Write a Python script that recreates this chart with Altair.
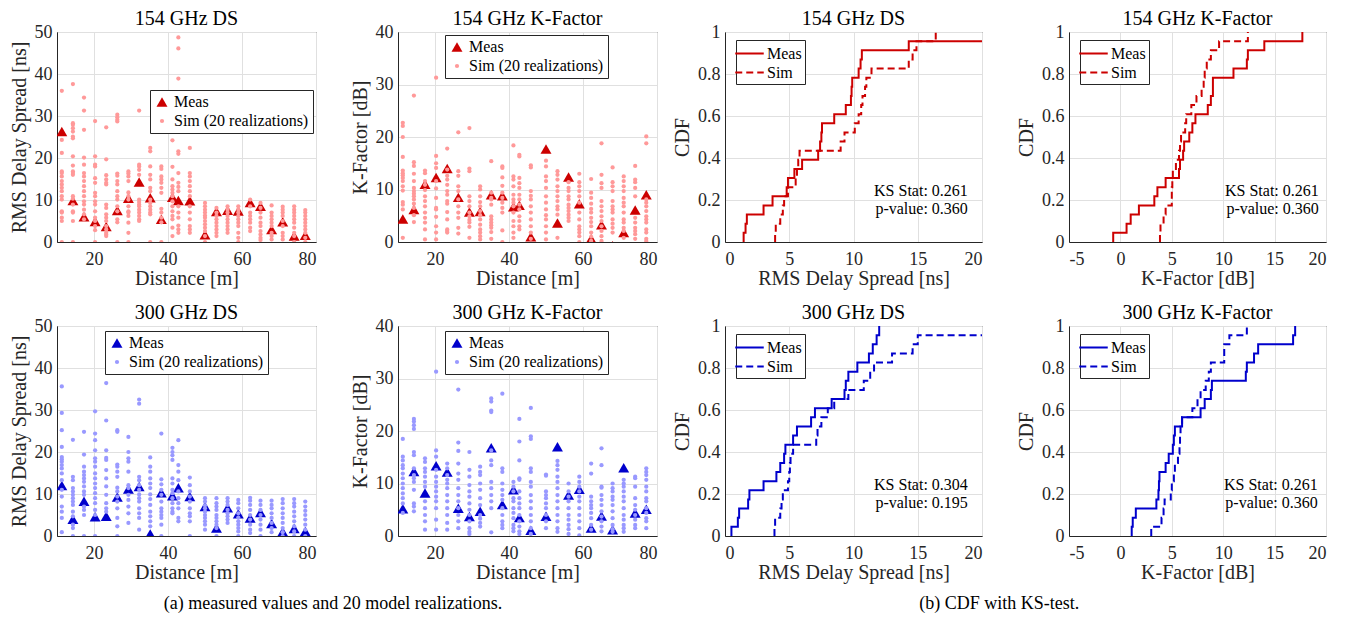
import altair as alt
import pandas as pd

FONT = "Liberation Serif"
INK = "#262626"

# measurement positions (m)
distance = [11.3, 14.3, 17.3, 20.3, 23.3, 26.3, 29.3, 32.2, 35.2, 38.2, 41.2, 42.8,
            45.9, 50.0, 53.1, 56.1, 59.0, 62.2, 65.0, 68.0, 71.0, 74.1, 77.1]

# measured values per position
ds154_meas = [26.3, 9.85, 6.0, 4.9, 3.7, 7.5, 10.4, 14.3, 10.55, 5.4, 10.65, 9.9,
              9.8, 1.7, 7.25, 7.55, 7.4, 9.4, 8.5, 3.0, 4.8, 1.45, 1.6]
kf154_meas = [4.4, 6.2, 11.0, 12.3, 14.0, 8.5, 5.7, 5.8, 9.0, 8.8, 6.7, 7.0,
              1.0, 17.7, 3.6, 12.4, 7.3, 0.6, 3.3, -0.7, 1.8, 6.1, 9.0]
ds300_meas = [12.0, 4.0, 8.3, 4.6, 4.7, 9.3, 11.2, 11.8, 0.5, 10.3, 9.6, 11.5,
              9.4, 7.0, 1.9, 6.7, 5.3, 4.3, 5.6, 3.0, 1.0, 1.8, 1.1]
kf300_meas = [5.2, 12.3, 8.2, 13.4, 12.2, 5.3, 3.7, 4.7, 16.8, 6.0, 8.8, 3.5,
              1.1, 3.75, 17.0, 7.8, 8.9, 1.5, 3.8, 1.2, 13.0, 4.4, 5.1]

# model realizations per position (overlapping draws collapse to one value)
ds154_sim = [
    [36.0, 24.3, 21.2, 16.8, 16.4, 15.6, 14.5, 13.7, 12.9, 12.1, 10.9, 10.1, 7.3, 7.0, 5.8, 5.0, 0.0],
    [37.6, 28.3, 27.9, 27.1, 26.3, 25.1, 24.7, 20.4, 18.2, 16.8, 16.4, 16.0, 10.9, 10.3, 8.9, 7.3, 7.0, 5.0, 0.0],
    [34.4, 31.3, 26.7, 20.1, 18.4, 16.4, 15.6, 14.5, 13.3, 12.1, 10.9, 9.7, 8.9, 7.7, 6.6, 5.4],
    [28.8, 20.4, 18.4, 18.0, 15.2, 14.1, 11.7, 10.9, 9.7, 8.9, 7.3, 5.8, 5.0, 3.8, 2.8, 0.0],
    [27.3, 19.7, 15.9, 14.9, 14.1, 13.7, 8.9, 8.1, 6.6, 5.8, 5.0, 3.8, 3.0, 2.2, 1.8, 1.4],
    [30.3, 29.7, 29.1, 28.7, 16.3, 15.8, 14.5, 13.7, 12.1, 10.9, 10.1, 8.5, 7.3, 5.4, 4.7, 0.0],
    [16.8, 16.3, 15.6, 14.5, 11.8, 10.9, 10.1, 8.5, 7.3, 7.0, 6.2, 4.6, 2.2, 0.0],
    [31.3, 18.4, 18.0, 17.2, 16.0, 10.1, 9.5, 8.9, 8.5, 7.7, 7.0, 6.2, 5.4, 5.0],
    [22.4, 21.6, 18.0, 16.0, 14.9, 12.9, 12.1, 10.1, 9.3, 8.5, 7.7, 7.0, 6.6, 0.0],
    [18.0, 17.4, 15.6, 14.9, 14.1, 12.9, 11.7, 7.9, 7.0, 5.8, 4.7, 0.0],
    [24.2, 17.9, 14.9, 13.3, 12.5, 11.7, 10.9, 9.7, 8.5, 7.3, 6.2, 5.4, 3.4, 1.4],
    [48.7, 46.1, 38.9, 21.6, 21.0, 16.4, 14.1, 13.1, 12.1, 8.5, 7.0, 5.8, 3.9, 3.0, 2.2],
    [22.4, 16.4, 15.6, 14.5, 13.3, 12.1, 10.9, 8.5, 7.0, 5.4, 3.8, 3.0, 2.2],
    [9.3, 8.5, 7.7, 7.0, 6.3, 5.8, 5.0, 4.2, 3.4, 2.6, 1.4, 0.0],
    [8.1, 7.0, 6.2, 5.4, 4.6, 3.8, 3.0, 2.2, 1.4],
    [8.5, 7.7, 7.0, 6.2, 5.4, 4.6, 3.8, 3.0, 2.2],
    [8.5, 7.7, 7.0, 6.2, 5.4, 4.6, 3.8, 2.2, 1.0, 0.0],
    [10.1, 8.5, 7.0, 6.2, 5.4, 4.6, 3.4, 2.6],
    [9.3, 8.1, 7.0, 5.8, 4.6, 3.8, 2.6, 1.8, 1.0, 0.5],
    [8.7, 7.0, 6.2, 5.4, 4.6, 3.8, 2.2, 1.4, 0.6],
    [8.4, 7.7, 7.0, 6.2, 5.0, 3.8, 2.2, 1.4, 0.6],
    [8.5, 7.7, 7.0, 6.2, 5.4, 4.6, 3.4, 2.2, 1.4, 0.0],
    [7.6, 7.0, 6.2, 5.4, 4.6, 3.8, 3.0, 2.2, 1.0, 0.0],
]
kf154_sim = [
    [22.7, 22.1, 20.0, 16.2, 13.6, 13.1, 12.7, 12.2, 11.6, 10.6, 9.8, 7.6, 7.1, 6.2, 0.8],
    [27.9, 15.2, 14.5, 13.0, 11.6, 10.3, 9.7, 9.2, 8.7, 8.1, 7.3, 6.5, 5.1, 3.8],
    [13.6, 13.1, 11.6, 10.9, 9.9, 8.7, 7.8, 6.8, 5.6, 4.6, 3.7, 2.4, 0.5],
    [31.3, 16.4, 15.0, 14.1, 11.6, 10.2, 8.4, 6.5, 6.2, 4.8, 3.0, 1.8, 0.5],
    [17.8, 13.8, 12.6, 11.9, 10.9, 9.7, 9.0, 7.8, 7.3, 5.7, 4.3, 2.4, 2.1, 1.8],
    [20.9, 13.5, 12.6, 10.6, 9.7, 8.1, 6.8, 5.6, 4.6, 2.7, 1.6],
    [21.7, 14.0, 13.5, 8.7, 7.8, 6.8, 5.6, 4.9, 4.2, 3.7, 2.9, 0.8],
    [10.6, 10.0, 8.7, 7.6, 6.8, 5.9, 5.1, 4.3, 3.3, 2.4, 1.8, 1.1, 0.5],
    [15.4, 9.4, 8.4, 8.1, 7.1, 4.9, 4.3, 3.7, 3.2, 2.7, 1.9, 0.6],
    [14.4, 14.1, 12.3, 10.7, 9.4, 8.4, 7.5, 6.5, 5.6, 2.2, 0.0],
    [18.4, 12.5, 11.9, 10.6, 9.0, 8.1, 7.5, 6.8, 5.6, 4.0, 3.0, 1.8, 0.8],
    [16.6, 16.3, 12.2, 11.2, 10.3, 9.0, 8.1, 7.1, 6.2, 4.9, 4.0, 3.0, 2.4],
    [14.6, 14.2, 9.7, 8.8, 8.1, 6.8, 5.6, 4.3, 3.0, 1.8, 0.6],
    [15.5, 14.4, 12.5, 11.6, 10.3, 8.7, 7.5, 6.2, 5.1, 4.3, 3.0, 1.8, 0.5],
    [13.5, 12.8, 11.9, 10.6, 9.7, 8.7, 7.8, 6.8, 6.2, 5.2, 0.8],
    [11.4, 10.3, 9.7, 8.7, 8.1, 7.1, 6.5, 5.9, 5.2, 4.6, 4.0],
    [13.0, 11.4, 10.6, 9.7, 8.7, 7.5, 5.6, 4.3, 3.0, 2.4, 1.8, 1.1, 0.0],
    [12.0, 9.4, 8.4, 7.3, 6.3, 5.6, 4.6, 3.8, 3.0, 1.8, 1.0, 0.2],
    [18.8, 12.8, 11.2, 10.3, 7.8, 6.8, 5.9, 4.9, 4.0, 3.0, 2.1, 1.1, 0.2],
    [14.2, 11.4, 10.6, 9.7, 7.8, 6.8, 6.2, 5.6, 4.3, 3.5, 2.7, 1.8],
    [12.5, 11.6, 10.6, 9.7, 8.4, 7.5, 6.8, 5.6, 4.3, 3.7, 2.7, 2.1, 0.8],
    [14.5, 11.9, 11.4, 10.3, 8.7, 4.6, 3.7, 2.7, 2.1, 1.5, 0.6],
    [20.1, 18.8, 8.1, 7.5, 6.8, 5.9, 4.9, 4.3, 3.7, 2.4, 1.8, 0.6, 0.2],
]
ds300_sim = [
    [35.6, 29.3, 25.2, 21.2, 18.8, 18.3, 17.7, 16.9, 16.1, 14.9, 13.3, 11.0, 9.4, 7.0, 5.8, 4.3, 0.9],
    [22.9, 14.1, 13.3, 11.4, 10.6, 9.8, 9.0, 8.2, 7.4, 5.8, 4.7, 2.7, 1.9, 0.0],
    [24.8, 19.4, 16.5, 15.3, 14.5, 13.7, 12.9, 11.8, 10.6, 9.8, 7.0, 6.2, 5.0, 0.0],
    [29.7, 24.4, 22.8, 20.4, 18.5, 17.7, 16.5, 14.9, 13.7, 12.5, 11.4, 10.2, 9.0, 7.8, 6.2, 5.0, 0.0],
    [36.4, 27.5, 20.4, 18.6, 18.1, 15.7, 13.7, 11.8, 9.8, 7.8, 6.6, 5.8],
    [25.2, 24.8, 17.0, 16.5, 15.3, 14.1, 11.5, 10.6, 9.4, 8.2, 6.6, 4.3, 2.3, 0.0],
    [23.6, 20.0, 18.5, 17.7, 15.3, 12.1, 11.4, 9.8, 8.6, 7.0, 5.4, 3.1],
    [32.5, 31.5, 14.1, 13.3, 12.1, 11.0, 9.9, 9.0, 8.2, 6.6, 5.4, 4.3, 1.5],
    [18.7, 16.5, 15.3, 13.7, 12.5, 11.4, 9.9, 8.8, 7.4, 5.8, 4.7, 3.5, 2.3],
    [24.4, 13.5, 12.3, 11.0, 9.8, 8.2, 6.6, 5.8, 5.0, 4.3, 2.7, 0.0],
    [21.0, 20.0, 19.2, 18.1, 13.7, 12.5, 11.0, 10.2, 9.0, 7.8, 6.6, 5.8, 5.4],
    [22.8, 16.9, 15.3, 13.3, 10.6, 9.0, 7.8, 6.6, 4.3, 3.5],
    [13.9, 12.1, 10.6, 9.4, 8.2, 6.6, 5.4, 4.7, 3.5, 0.0],
    [9.0, 8.2, 7.3, 6.6, 5.8, 5.0, 4.3, 3.5, 2.7, 1.5],
    [9.0, 7.8, 7.0, 6.2, 5.0, 4.3, 3.5, 2.7, 1.9, 0.0],
    [9.0, 8.2, 7.4, 6.2, 5.4, 4.7, 3.9, 3.1],
    [8.6, 7.8, 6.6, 5.4, 4.4, 3.5, 2.7, 1.9, 1.1, 0.0],
    [9.1, 8.4, 7.4, 6.2, 5.0, 3.9, 2.7, 1.5, 0.7],
    [8.4, 7.4, 6.2, 5.0, 3.9, 2.7, 1.5, 0.0],
    [8.4, 7.4, 6.6, 5.4, 4.3, 3.1, 1.9, 0.9],
    [8.8, 7.8, 6.6, 5.4, 4.3, 3.1, 1.9, 0.9, 0.0],
    [8.8, 7.8, 7.0, 5.8, 4.7, 3.5, 2.3, 1.1, 0.0],
    [8.2, 7.0, 6.0, 5.0, 3.9, 2.7, 1.5, 0.0],
]
kf300_sim = [
    [18.5, 15.1, 14.4, 13.5, 12.9, 11.9, 11.0, 10.0, 9.1, 8.1, 7.2, 6.2, 4.4],
    [22.3, 21.8, 21.1, 20.4, 16.0, 15.4, 12.9, 11.6, 11.0, 10.3, 8.8, 6.2, 5.6, 4.7],
    [14.8, 14.1, 12.9, 12.2, 11.3, 10.3, 9.4, 6.6, 5.3, 4.0, 2.8, 1.2],
    [31.3, 16.3, 15.1, 12.6, 11.3, 10.3, 9.4, 8.5, 7.5, 6.6, 5.3, 3.1, 1.2],
    [13.8, 12.9, 11.6, 10.7, 10.0, 9.1, 7.8, 6.6, 5.3, 4.0, 2.5, 1.2],
    [27.9, 17.8, 16.2, 13.8, 11.9, 10.7, 9.1, 7.8, 6.6, 5.3, 4.0, 2.8, 1.5],
    [16.0, 12.6, 11.3, 9.7, 8.5, 7.5, 6.2, 5.0, 4.0, 2.8, 1.5, 0.8, 0.4],
    [13.2, 12.2, 11.6, 10.0, 8.8, 7.2, 5.9, 4.0, 3.3, 2.5, 1.8],
    [26.2, 25.6, 23.9, 23.6, 16.3, 14.4, 13.5, 10.3, 9.1, 7.8, 6.6, 5.3, 0.7],
    [27.1, 12.9, 12.2, 10.0, 8.8, 7.8, 6.9, 5.3, 4.0, 2.8, 2.1, 1.5],
    [10.3, 9.4, 8.5, 7.2, 6.6, 5.3, 4.4, 3.4, 2.1, 1.5, 0.9],
    [22.3, 18.0, 14.4, 11.0, 10.7, 8.5, 7.2, 6.2, 5.3, 4.0, 2.8, 1.8, 0.9, 0.4],
    [24.4, 19.0, 18.5, 12.9, 12.2, 10.3, 9.4, 7.8, 6.6, 5.3, 4.0, 2.8, 1.5, 0.4],
    [11.7, 11.5, 8.5, 7.8, 7.2, 6.2, 5.3, 4.0, 2.8, 1.5],
    [14.3, 13.5, 12.6, 11.3, 10.3, 9.1, 7.8, 6.6, 5.3, 4.0, 2.8, 1.5, 0.8],
    [10.0, 8.5, 7.5, 6.6, 5.3, 4.0, 3.1, 2.1, 1.3, 0.4],
    [11.3, 10.3, 9.4, 8.5, 7.5, 6.6, 5.3, 4.0, 2.8, 1.5, 0.1],
    [13.8, 11.9, 7.5, 6.6, 5.9, 5.3, 4.4, 3.4, 2.1, 1.2],
    [16.7, 13.5, 9.4, 9.2, 7.8, 6.9, 5.9, 4.7, 3.7, 2.8, 1.8, 0.9],
    [10.0, 9.1, 8.5, 7.5, 6.9, 5.9, 4.7, 3.4, 2.1, 1.3, 0.8],
    [10.7, 10.0, 9.4, 8.5, 7.5, 6.6, 5.3, 4.0, 3.1, 2.1, 1.5, 0.8],
    [11.3, 11.0, 9.4, 7.2, 5.9, 5.0, 4.0, 3.1, 2.1, 1.5],
    [12.9, 12.2, 11.6, 10.7, 9.4, 8.5, 7.2, 6.6, 5.3, 4.4, 3.4, 2.8, 1.5],
]

# simulated values entering the CDF comparison (one per position)
ds154_sim_cdf = [3.9, 3.95, 4.3, 4.5, 4.6, 4.9, 5.5, 5.6, 5.7, 5.8, 9.0, 9.3,
                 10.1, 10.4, 10.6, 10.7, 10.9, 11.0, 11.4, 14.3, 14.6, 14.9, 16.4]
kf154_sim_cdf = [3.85, 3.9, 4.2, 4.4, 5.0, 5.0, 5.05, 5.1, 5.4, 5.7, 5.8, 5.9,
                 6.3, 6.4, 6.9, 7.4, 7.9, 8.1, 8.2, 8.4, 8.8, 9.6, 12.4]
ds300_sim_cdf = [3.85, 3.9, 4.3, 4.4, 4.5, 4.9, 5.0, 5.05, 5.1, 5.3, 7.1, 7.2,
                 7.5, 8.0, 8.5, 9.6, 10.8, 11.3, 11.6, 13.0, 14.6, 15.0, 23.0]
kf300_sim_cdf = [3.0, 4.0, 4.2, 4.3, 4.9, 5.0, 5.2, 5.3, 5.6, 5.75, 5.8, 5.85,
                 6.0, 7.0, 7.5, 7.8, 8.3, 8.6, 8.8, 10.1, 10.1, 10.6, 12.3]

# Kolmogorov-Smirnov results
ks_stats = {"ds154": ("0.261", "0.360"), "kf154": ("0.261", "0.360"),
            "ds300": ("0.304", "0.195"), "kf300": ("0.261", "0.360")}

RED, PINK = "#CC0000", "#FF9999"
BLUE, LILAC = "#0000CC", "#9999FF"

SIM_LABEL = "Sim (20 realizations)"


def panel_title(text):
    # the top y tick label pokes above the frame; pull the title back down onto the box
    return alt.Title(text, offset=-6, frame="group", fontWeight="normal",
                     font=FONT, fontSize=20)


def scatter_panel(title, ytitle, ymax, meas, sims, dark, light, lx, ly):
    meas_df = pd.DataFrame({"Distance": distance, "Value": meas, "Series": "Meas"})
    rows = [(d, v) for d, col in zip(distance, sims) for v in col]
    sim_df = pd.DataFrame(rows, columns=["Distance", "Value"])
    sim_df["Series"] = SIM_LABEL

    dom = ["Meas", SIM_LABEL]
    leg = alt.Legend(title=None, orient="none", legendX=lx, legendY=ly,
                     strokeColor=INK, fillColor="white", padding=4,
                     rowPadding=3, labelFontSize=16, labelLimit=300,
                     symbolOpacity=1, symbolStrokeWidth=0)
    x = alt.X("Distance:Q", title="Distance [m]",
              scale=alt.Scale(domain=[10, 80], nice=False, zero=False),
              axis=alt.Axis(values=[20, 40, 60, 80]))
    y = alt.Y("Value:Q", title=ytitle,
              scale=alt.Scale(domain=[0, ymax], nice=False),
              axis=alt.Axis(values=list(range(0, ymax + 1, 10))))
    color = alt.Color("Series:N", scale=alt.Scale(domain=dom, range=[dark, light]), legend=leg)
    shape = alt.Shape("Series:N", scale=alt.Scale(domain=dom, range=["triangle-up", "circle"]), legend=leg)
    size = alt.Size("Series:N", scale=alt.Scale(domain=dom, range=[120, 18]), legend=leg)

    base = dict(x=x, y=y, color=color, shape=shape, size=size)
    meas_layer = alt.Chart(meas_df).mark_point(filled=True, opacity=1, clip=True).encode(**base)
    sim_layer = alt.Chart(sim_df).mark_point(filled=True, opacity=1, clip=True).encode(**base)
    return alt.layer(meas_layer, sim_layer).properties(
        width=259, height=210, title=panel_title(title))


def steps(values, label):
    ordered = sorted(values)
    n = len(ordered)
    pts = [(ordered[0], 0.0)] + [(v, (i + 1) / n) for i, v in enumerate(ordered)]
    return pd.DataFrame({"X": [p[0] for p in pts], "CDF": [p[1] for p in pts],
                         "Series": label, "idx": range(len(pts))})


def cdf_panel(title, xtitle, xdom, meas, sim, color, ks, tx):
    df = pd.concat([steps(meas, "Meas"), steps(sim, "Sim")], ignore_index=True)
    leg = alt.Legend(title=None, orient="none", legendX=11, legendY=8,
                     strokeColor=INK, fillColor="white", padding=3, rowPadding=0,
                     labelFontSize=16, symbolType="M-1.5,0L1.5,0", symbolStrokeColor=color,
                     symbolStrokeWidth=2, symbolSize=361, labelOffset=7)
    x = alt.X("X:Q", title=xtitle, scale=alt.Scale(domain=xdom, nice=False, zero=False),
              axis=alt.Axis(values=list(range(xdom[0], xdom[1] + 1, 5)),
                            labelExpr="'' + datum.value"))
    y = alt.Y("CDF:Q", title="CDF", scale=alt.Scale(domain=[0, 1], nice=False),
              axis=alt.Axis(values=[0, 0.2, 0.4, 0.6, 0.8, 1], format="~g"))
    lines = alt.Chart(df).mark_line(interpolate="step-after", clip=True, strokeWidth=2,
                                    color=color).encode(
        x=x, y=y, order=alt.Order("idx:Q"),
        strokeDash=alt.StrokeDash("Series:N", scale=alt.Scale(domain=["Meas", "Sim"],
                                                              range=[[1, 0], [7, 4]]),
                                  legend=leg))
    txt_df = pd.DataFrame({"X": [tx, tx], "CDF": [0.245, 0.155],
                           "t": ["KS Stat: " + ks[0], "p-value: " + ks[1]]})
    text = alt.Chart(txt_df).mark_text(align="right", baseline="middle", font=FONT,
                                       fontSize=16, color="black").encode(
        x=alt.X("X:Q", scale=alt.Scale(domain=xdom)), y="CDF:Q", text="t:N")
    return alt.layer(lines, text).properties(
        width=257, height=210, title=panel_title(title))


RES = dict(color="independent", shape="independent", size="independent",
           strokeDash="independent")

p1 = scatter_panel("154 GHz DS", "RMS Delay Spread [ns]", 50, ds154_meas, ds154_sim, RED, PINK, 93, 58)
p2 = scatter_panel("154 GHz K-Factor", "K-Factor [dB]", 40, kf154_meas, kf154_sim, RED, PINK, 47, 3)
p5 = scatter_panel("300 GHz DS", "RMS Delay Spread [ns]", 50, ds300_meas, ds300_sim, BLUE, LILAC, 48, 5)
p6 = scatter_panel("300 GHz K-Factor", "K-Factor [dB]", 40, kf300_meas, kf300_sim, BLUE, LILAC, 47, 5)

p3 = cdf_panel("154 GHz DS", "RMS Delay Spread [ns]", [0, 20], ds154_meas, ds154_sim_cdf, RED, ks_stats["ds154"], 18.9)
p4 = cdf_panel("154 GHz K-Factor", "K-Factor [dB]", [-5, 20], kf154_meas, kf154_sim_cdf, RED, ks_stats["kf154"], 19.3)
p7 = cdf_panel("300 GHz DS", "RMS Delay Spread [ns]", [0, 20], ds300_meas, ds300_sim_cdf, BLUE, ks_stats["ds300"], 18.9)
p8 = cdf_panel("300 GHz K-Factor", "K-Factor [dB]", [-5, 20], kf300_meas, kf300_sim_cdf, BLUE, ks_stats["kf300"], 19.2)


def caption(text):
    return alt.Title(text, orient="bottom", fontSize=18, offset=12, anchor="middle",
                     fontWeight="normal", font=FONT)


left = alt.vconcat(
    alt.hconcat(p1, p2, spacing=32).resolve_scale(**RES).resolve_legend(**RES),
    alt.hconcat(p5, p6, spacing=32).resolve_scale(**RES).resolve_legend(**RES),
    spacing=13,
).resolve_scale(**RES).resolve_legend(**RES).properties(
    title=caption("(a) measured values and 20 model realizations."))

right = alt.vconcat(
    alt.hconcat(p3, p4, spacing=33).resolve_scale(**RES).resolve_legend(**RES),
    alt.hconcat(p7, p8, spacing=33).resolve_scale(**RES).resolve_legend(**RES),
    spacing=13,
).resolve_scale(**RES).resolve_legend(**RES).properties(
    title=caption("(b) CDF with KS-test."))

chart = alt.hconcat(left, right, spacing=14).resolve_scale(**RES).resolve_legend(**RES).properties(
    padding={"left": 8, "top": 8, "right": 5, "bottom": 5}
).configure_view(
    stroke=INK, strokeWidth=1
).configure_axis(
    labelFont=FONT, titleFont=FONT, labelFontSize=18, titleFontSize=20,
    titleFontWeight="normal", labelColor=INK, titleColor=INK,
    domainColor=INK, gridColor="#E0E0E0", gridWidth=1, ticks=False
).configure_axisX(
    labelPadding=8, titlePadding=0
).configure_axisY(
    labelPadding=5, titlePadding=5
).configure_title(
    font=FONT, fontSize=20, fontWeight="normal", color="black"
).configure_legend(
    labelFont=FONT, labelColor="black"
)

chart.save("out.html", embed_options={"renderer": "svg", "actions": False})
